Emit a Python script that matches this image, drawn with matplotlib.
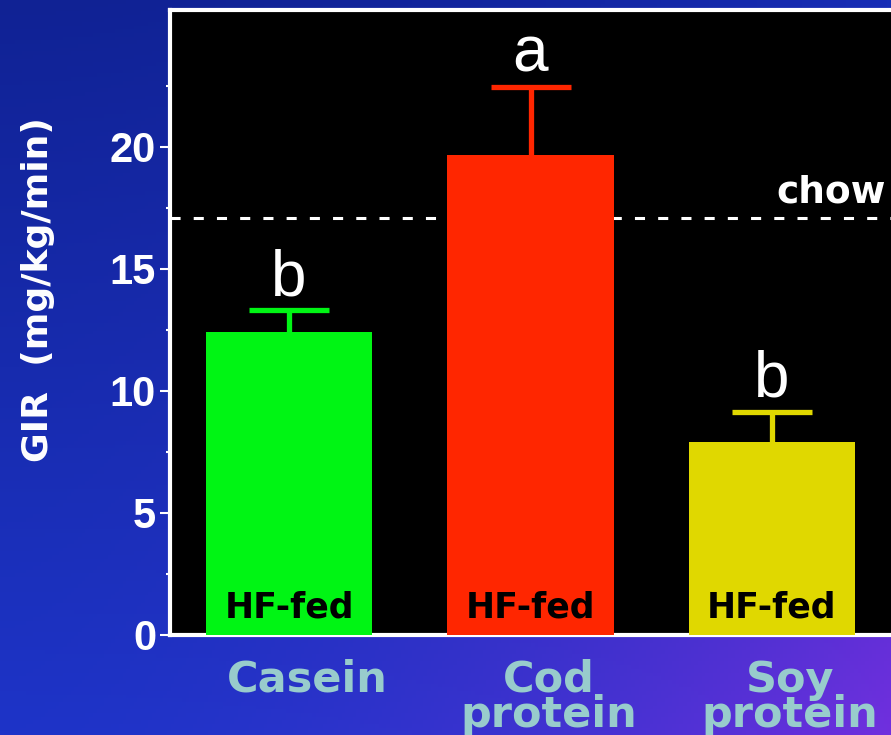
import numpy as np
import matplotlib
matplotlib.use('Agg')
import matplotlib.pyplot as plt
from matplotlib.transforms import ScaledTranslation

# GIR by protein source (HF-fed rats)
groups = ['Casein', 'Cod\nprotein', 'Soy\nprotein']
gir = [12.4, 19.65, 7.9]
gir_err = [0.9, 2.8, 1.25]
letters = ['b', 'a', 'b']
bar_colors = ['#00f514', '#ff2600', '#e0d800']
chow_level = 17.1

fig = plt.figure(figsize=(8.91, 7.35), dpi=100)

# blue -> purple backdrop
bg = fig.add_axes([0, 0, 1, 1], zorder=-10)
h, w = 200, 240
yy, xx = np.mgrid[0:1:h * 1j, 0:1:w * 1j]
tl = np.array([16, 34, 148]) / 255
tr = np.array([24, 46, 182]) / 255
bl = np.array([30, 52, 200]) / 255
br = np.array([112, 48, 222]) / 255
gx = xx[..., None] ** 1.8
gy = yy[..., None]
img = (tl * (1 - gx) * (1 - gy) + tr * gx * (1 - gy)
       + bl * (1 - gx) * gy + br * gx * gy)
bg.imshow(img, aspect='auto', extent=[0, 1, 0, 1], origin='upper')
bg.axis('off')

ax = fig.add_axes([170 / 891, 100 / 735, 721 / 891, 625 / 735])
ax.set_facecolor('black')

x = np.arange(len(groups))
ax.axhline(chow_level, color='white', lw=2.2, ls=(0, (3.3, 4.3)), zorder=1)
ax.bar(x, gir, width=0.69, color=bar_colors, zorder=3)
for xi, v, e, c, lt in zip(x, gir, gir_err, bar_colors, letters):
    # upper error bar only
    eb = ax.errorbar(xi, v, yerr=[[0], [e]], color=c, elinewidth=3.8,
                     capsize=29, capthick=3.8, zorder=2)
    for cap in eb.lines[1]:
        if cap.get_ydata()[0] <= v:
            cap.set_visible(False)
    ax.annotate(lt, (xi, v + e), xytext=(0, 11), textcoords='offset points',
                ha='center', va='baseline', color='white', fontsize=46,
                family='Liberation Sans')
    ax.text(xi, 0.45, 'HF-fed', ha='center', va='bottom', color='black',
            fontsize=25, fontweight='bold', family='DejaVu Sans', zorder=4)

ax.text(2.47, chow_level + 0.3, 'chow', ha='right', va='bottom', color='white',
        fontsize=27, fontweight='bold', family='DejaVu Sans', zorder=4)

ax.set_xlim(-0.493, 2.493)
ax.set_ylim(0, 25.6)
ax.set_yticks([0, 5, 10, 15, 20])
ax.set_yticks(np.arange(2.5, 25, 5), minor=True)
ax.tick_params(axis='y', which='major', colors='white', length=7, width=1.5,
               pad=3, labelsize=30)
ax.tick_params(axis='y', which='minor', colors='white', length=3, width=1.5)
for lab in ax.get_yticklabels():
    lab.set_fontweight('bold')
    lab.set_family('Liberation Sans')

ax.set_xticks(x)
ax.set_xticklabels(groups, fontsize=31, fontweight='bold', color='#98cccc',
                   family='DejaVu Sans', linespacing=0.8, va='top')
ax.tick_params(axis='x', length=0, pad=17)
shift = ScaledTranslation(0.18, 0, fig.dpi_scale_trans)
for lab in ax.get_xticklabels():
    lab.set_transform(lab.get_transform() + shift)

ax.set_ylabel('GIR  (mg/kg/min)', fontsize=26, fontweight='bold',
              color='white', family='DejaVu Sans')
ax.yaxis.set_label_coords(-0.16, 0.552)

for side in ['left', 'top', 'bottom']:
    ax.spines[side].set_color('white')
    ax.spines[side].set_linewidth(3)
ax.spines['right'].set_visible(False)

fig.savefig('out.png', dpi=100)
